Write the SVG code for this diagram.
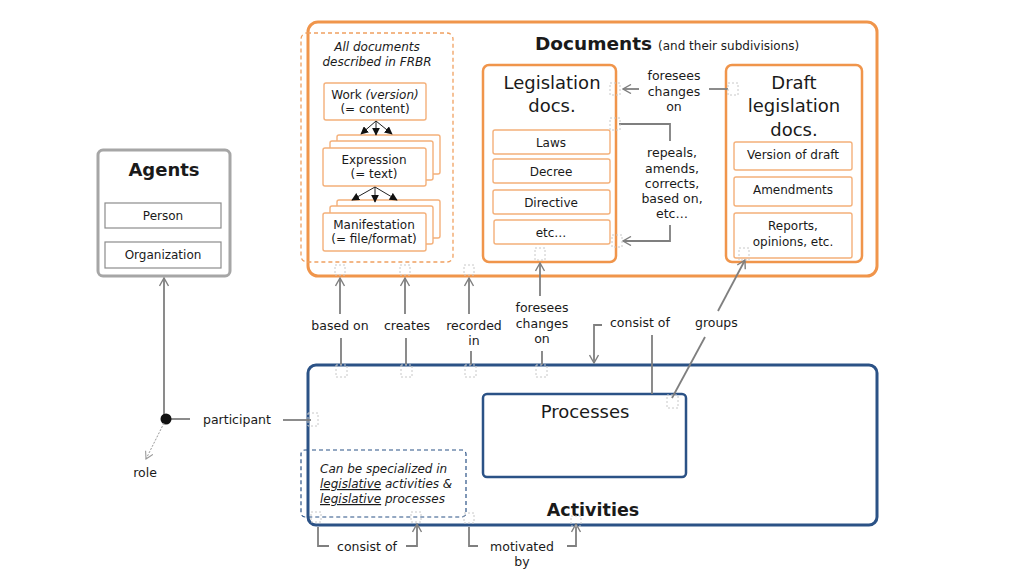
<svg xmlns="http://www.w3.org/2000/svg" width="1024" height="576" viewBox="0 0 1024 576">
<defs>
<style>
text{font-family:"DejaVu Sans","Liberation Sans",sans-serif;fill:#1a1a1a}
.t12{font-size:12px}
.t125{font-size:12.5px}
.big{font-size:18px}
.b{font-weight:bold}
.i{font-style:italic}
.m{text-anchor:middle}
.org{fill:#fff;stroke:#F0954B;stroke-width:3}
.orgm{fill:#fff;stroke:#F0954B;stroke-width:2.5}
.orgs{fill:#fff;stroke:#F4B07A;stroke-width:1.4}
.orgd{fill:none;stroke:#F0A060;stroke-width:1.3;stroke-dasharray:4,3}
.blu{fill:#fff;stroke:#2B5286;stroke-width:3}
.blum{fill:#fff;stroke:#2B5286;stroke-width:2.5}
.blud{fill:none;stroke:#2B5286;stroke-width:1.2;stroke-dasharray:4,3}
.gry{fill:#fff;stroke:#A6A6A6;stroke-width:3}
.grys{fill:#fff;stroke:#8c8c8c;stroke-width:1.2}
.c{fill:none;stroke:#7F7F7F;stroke-width:1.8}
.ca{fill:none;stroke:#7F7F7F;stroke-width:1.8;marker-end:url(#oa)}
.k{fill:none;stroke:#222;stroke-width:1;marker-end:url(#fa)}
.h{fill:none;stroke:#c8c8c8;stroke-width:1;stroke-dasharray:2,2}
</style>
<marker id="oa" viewBox="0 0 10 10" refX="9" refY="5" markerWidth="10" markerHeight="10" orient="auto" markerUnits="userSpaceOnUse">
<path d="M1,0.5 L9,5 L1,9.5" fill="none" stroke="#7F7F7F" stroke-width="1.4"/>
</marker>
<marker id="ra" viewBox="0 0 10 10" refX="9" refY="5" markerWidth="9" markerHeight="9" orient="auto" markerUnits="userSpaceOnUse">
<path d="M1,0.5 L9,5 L1,9.5" fill="none" stroke="#999" stroke-width="1.2"/>
</marker>
<marker id="fa" viewBox="0 0 10 10" refX="9" refY="5" markerWidth="8" markerHeight="8" orient="auto" markerUnits="userSpaceOnUse">
<path d="M0,0 L10,5 L0,10 Z" fill="#111"/>
</marker>
</defs>
<rect width="1024" height="576" fill="#fff"/>

<g id="documents">
<rect class="org" x="308" y="22" width="569" height="254" rx="10"/>
<text x="535" y="50" class="b" style="font-size:18.5px">Documents</text>
<text x="658" y="50" class="t12">(and their subdivisions)</text>
</g>

<g id="frbr">
<rect class="orgd" x="301" y="33" width="152" height="229" rx="6"/>
<text x="377" y="51" class="t12 i m">All documents</text>
<text x="377" y="66" class="t12 i m">described in FRBR</text>
</g>

<g id="work">
<rect class="orgs" x="324" y="83" width="102" height="37" rx="2"/>
<text x="375" y="99" class="t12 m">Work <tspan class="i">(version)</tspan></text>
<text x="375" y="113" class="t12 m">(= content)</text>
</g>

<g id="expression">
<rect class="orgs" x="337" y="135" width="103" height="39" rx="2"/>
<rect class="orgs" x="330" y="141" width="103" height="39" rx="2"/>
<rect class="orgs" x="323" y="148" width="103" height="38" rx="2"/>
<text x="374" y="164" class="t12 m">Expression</text>
<text x="374" y="178" class="t12 m">(= text)</text>
</g>

<g id="manifestation">
<rect class="orgs" x="337" y="200" width="103" height="38" rx="2"/>
<rect class="orgs" x="330" y="206" width="103" height="38" rx="2"/>
<rect class="orgs" x="323" y="213" width="103" height="38" rx="2"/>
<text x="374" y="229" class="t12 m">Manifestation</text>
<text x="374" y="243" class="t12 m">(= file/format)</text>
</g>

<g id="legislation">
<rect class="orgm" x="483" y="65" width="133" height="197" rx="6"/>
<text x="552" y="89" class="big m">Legislation</text>
<text x="552" y="112" class="big m">docs.</text>
<rect class="orgs" x="493" y="130" width="117" height="24" rx="2"/>
<text x="551" y="147" class="t12 m">Laws</text>
<rect class="orgs" x="493" y="159" width="117" height="24" rx="2"/>
<text x="551" y="176" class="t12 m">Decree</text>
<rect class="orgs" x="493" y="190" width="117" height="24" rx="2"/>
<text x="551" y="207" class="t12 m">Directive</text>
<rect class="orgs" x="494" y="220" width="116" height="24" rx="2"/>
<text x="551" y="237" class="t12 m">etc…</text>
</g>

<g id="draft">
<rect class="orgm" x="726" y="65" width="136" height="197" rx="6"/>
<text x="794" y="89" class="big m">Draft</text>
<text x="794" y="112" class="big m">legislation</text>
<text x="794" y="136" class="big m">docs.</text>
<rect class="orgs" x="734" y="142" width="118" height="28" rx="2"/>
<text x="793" y="159" class="t12 m">Version of draft</text>
<rect class="orgs" x="734" y="177" width="118" height="29" rx="2"/>
<text x="793" y="194" class="t12 m">Amendments</text>
<rect class="orgs" x="734" y="213" width="118" height="45" rx="2"/>
<text x="793" y="230" class="t12 m">Reports,</text>
<text x="793" y="246" class="t12 m">opinions, etc.</text>
</g>

<g id="agents">
<rect class="gry" x="98" y="150" width="132" height="126" rx="5"/>
<text x="164" y="176" class="b m" style="font-size:18px">Agents</text>
<rect class="grys" x="105" y="203" width="116" height="25"/>
<text x="163" y="220" class="t12 m">Person</text>
<rect class="grys" x="105" y="242" width="116" height="26"/>
<text x="163" y="259" class="t12 m">Organization</text>
</g>

<g id="activities">
<rect class="blu" x="308" y="365" width="569" height="160" rx="8"/>
<text x="593" y="516" class="b m" style="font-size:17.5px">Activities</text>
</g>

<g id="processes">
<rect class="blum" x="483" y="394" width="203" height="83" rx="4"/>
<text x="585" y="418" class="m" style="font-size:18px">Processes</text>
</g>

<g id="specialized">
<rect class="blud" x="301" y="450" width="165" height="67" rx="4"/>
<text x="320" y="473" class="t12 i">Can be specialized in</text>
<text x="320" y="488" class="t12 i"><tspan text-decoration="underline">legislative</tspan> activities &amp;</text>
<text x="320" y="503" class="t12 i"><tspan text-decoration="underline">legislative</tspan> processes</text>
</g>

<g id="connectors">
<!-- FRBR internal arrows -->
<line class="k" x1="376" y1="121" x2="361" y2="134"/>
<line class="k" x1="376" y1="121" x2="376" y2="135"/>
<line class="k" x1="376" y1="121" x2="392" y2="134"/>
<line class="k" x1="375" y1="187" x2="352" y2="200"/>
<line class="k" x1="375" y1="187" x2="375" y2="202"/>
<line class="k" x1="375" y1="187" x2="397" y2="200"/>

<!-- foresees changes on (draft -> legislation) -->
<line class="c" x1="728" y1="89" x2="709" y2="89"/>
<line class="ca" x1="639" y1="89" x2="623" y2="89"/>
<text x="674" y="80" class="t125 m">foresees</text>
<text x="674" y="96" class="t125 m">changes</text>
<text x="674" y="111" class="t125 m">on</text>

<!-- repeals etc -->
<polyline class="c" points="619,124 670,124 670,141"/>
<polyline class="ca" points="670,225 670,241 623,241"/>
<text x="672" y="157" class="t125 m">repeals,</text>
<text x="672" y="173" class="t125 m">amends,</text>
<text x="672" y="188" class="t125 m">corrects,</text>
<text x="672" y="203" class="t125 m">based on,</text>
<text x="672" y="218" class="t125 m">etc…</text>

<!-- based on -->
<line class="ca" x1="340" y1="314" x2="340" y2="278"/>
<line class="c" x1="341" y1="338" x2="341" y2="365"/>
<text x="340" y="330" class="t125 m">based on</text>

<!-- creates -->
<line class="ca" x1="405" y1="314" x2="405" y2="278"/>
<line class="c" x1="406" y1="338" x2="406" y2="365"/>
<text x="407" y="330" class="t125 m">creates</text>

<!-- recorded in -->
<line class="ca" x1="469" y1="314" x2="469" y2="278"/>
<line class="c" x1="471" y1="351" x2="471" y2="365"/>
<text x="474" y="330" class="t125 m">recorded</text>
<text x="474" y="345" class="t125 m">in</text>

<!-- foresees changes on (activities -> legislation) -->
<line class="ca" x1="540" y1="296" x2="540" y2="263"/>
<line class="c" x1="542" y1="351" x2="542" y2="365"/>
<text x="542" y="312" class="t125 m">foresees</text>
<text x="542" y="328" class="t125 m">changes</text>
<text x="542" y="343" class="t125 m">on</text>

<!-- consist of (processes -> activities) -->
<polyline class="ca" points="602,325 594,325 594,363"/>
<line class="c" x1="652" y1="335" x2="652" y2="394"/>
<text x="610" y="327" class="t125">consist of</text>

<!-- groups -->
<line class="ca" x1="718" y1="311" x2="745" y2="260"/>
<line class="c" x1="705" y1="337" x2="672" y2="398"/>
<text x="695" y="327" class="t125">groups</text>

<!-- participant -->
<line class="ca" x1="164" y1="419" x2="164" y2="278"/>
<line class="c" x1="166" y1="419" x2="190" y2="419"/>
<line class="c" x1="283" y1="420" x2="311" y2="420"/>
<circle cx="166" cy="419" r="5.5" fill="#111"/>
<text x="203" y="424" class="t125">participant</text>
<line x1="164" y1="423" x2="146" y2="459" stroke="#999" stroke-width="1" stroke-dasharray="2,1.5" marker-end="url(#ra)"/>
<text x="145" y="477" class="t125 m">role</text>

<!-- consist of (activities self) -->
<polyline class="c" points="318,527 318,546 329,546"/>
<polyline class="ca" points="406,546 417,546 417,524"/>
<text x="367" y="551" class="t125 m">consist of</text>

<!-- motivated by -->
<polyline class="c" points="469,527 469,546 478,546"/>
<polyline class="ca" points="567,546 576,546 576,524"/>
<text x="522" y="551" class="t125 m">motivated</text>
<text x="522" y="566" class="t125 m">by</text>
</g>

<g id="handles">
<rect class="h" x="610" y="83" width="10" height="12"/>
<rect class="h" x="728" y="83" width="10" height="12"/>
<rect class="h" x="610" y="118" width="10" height="12"/>
<rect class="h" x="612" y="235" width="10" height="12"/>
<rect class="h" x="535" y="248" width="10" height="12"/>
<rect class="h" x="335" y="265" width="10" height="10"/>
<rect class="h" x="400" y="265" width="10" height="10"/>
<rect class="h" x="464" y="265" width="10" height="10"/>
<rect class="h" x="336" y="365" width="11" height="12"/>
<rect class="h" x="401" y="365" width="11" height="12"/>
<rect class="h" x="465" y="365" width="11" height="12"/>
<rect class="h" x="536" y="365" width="11" height="12"/>
<rect class="h" x="308" y="413" width="10" height="13"/>
<rect class="h" x="667" y="395" width="11" height="13"/>
<rect class="h" x="739" y="248" width="10" height="12"/>
<rect class="h" x="311" y="512" width="10" height="10"/>
<rect class="h" x="411" y="512" width="10" height="10"/>
<rect class="h" x="464" y="513" width="10" height="10"/>
<rect class="h" x="571" y="516" width="10" height="10"/>
</g>
</svg>
